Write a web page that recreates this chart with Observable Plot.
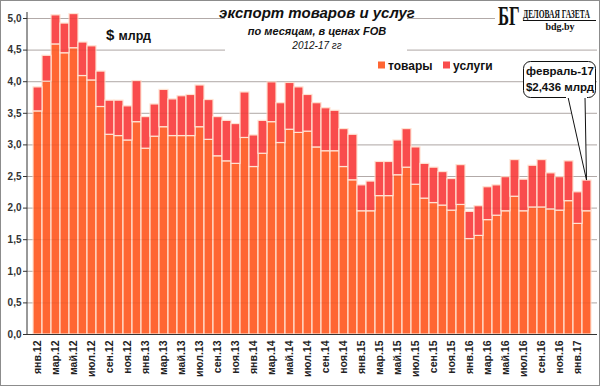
<!DOCTYPE html>
<html><head><meta charset="utf-8">
<script src="https://cdn.jsdelivr.net/npm/d3@7"></script>
<script src="https://cdn.jsdelivr.net/npm/@observablehq/plot@0.6"></script>
<style>
body{margin:0;background:#fff;}
#chart{position:relative;width:600px;height:386px;}
#chart svg{display:block;}
</style></head><body><div id="chart"></div>
<script>
const monthNames = ["янв","фев","мар","апр","май","июн","июл","авг","сен","окт","ноя","дек"];
const years = ["12","13","14","15","16","17"];
const months = [];
years.forEach(y => monthNames.forEach(m => { if (months.length < 62) months.push(m + "." + y); }));

// экспорт товаров, $ млрд
const goods = [3.53,4.00,4.59,4.45,4.53,4.09,4.02,3.60,3.16,3.14,3.07,3.36,
               2.94,3.13,3.28,3.14,3.14,3.14,3.28,3.08,2.82,2.74,2.70,3.11,
               2.65,2.86,3.36,3.03,3.24,3.19,3.21,2.96,2.90,2.90,2.65,2.44,
               1.95,1.95,2.19,2.19,2.52,2.64,2.37,2.15,2.08,2.04,1.96,2.05,
               1.51,1.56,1.81,1.88,1.95,2.18,1.95,2.01,2.01,1.98,1.96,2.11,
               1.75,1.95];
// экспорт услуг, $ млрд
const services = [0.38,0.41,0.46,0.47,0.54,0.53,0.54,0.56,0.54,0.56,0.54,0.65,
                  0.50,0.51,0.59,0.58,0.63,0.65,0.66,0.63,0.62,0.64,0.63,0.72,
                  0.50,0.52,0.63,0.63,0.74,0.72,0.58,0.70,0.68,0.64,0.60,0.72,
                  0.41,0.47,0.54,0.54,0.55,0.61,0.59,0.55,0.56,0.53,0.50,0.63,
                  0.43,0.47,0.52,0.48,0.54,0.58,0.50,0.66,0.75,0.57,0.53,0.63,
                  0.50,0.486];
const seriesNames = ["товары","услуги"];
const seriesColors = ["#ff6633","#f94c4c"];
const yTicks = [0,0.5,1,1.5,2,2.5,3,3.5,4,4.5,5];
const xTicks = months.filter((d,i) => i % 2 === 0);

const data = [];
months.forEach((m,i) => data.push({month:m, type:seriesNames[0], value:goods[i]}));
months.forEach((m,i) => data.push({month:m, type:seriesNames[1], value:services[i]}));

const chart = Plot.plot({
  width:600, height:386,
  marginLeft:27, marginRight:3, marginTop:12, marginBottom:52,
  style:{fontFamily:"'Liberation Sans', Arial, sans-serif", background:"#fff", overflow:"visible"},
  x:{type:"band", domain:months, paddingInner:0, paddingOuter:0, label:null},
  y:{domain:[0,5.095], label:null},
  color:{domain:seriesNames, range:seriesColors},
  marks:[
    Plot.gridY(yTicks,{stroke:"#b9b9b9", strokeOpacity:1}),
    Plot.barY(data,{x:"month", y:"value", fill:"type", stroke:"#ffe2d2", strokeWidth:1.2}),
    Plot.gridY(yTicks,{stroke:"#7a2a10", strokeOpacity:0.10}),
    Plot.ruleY([0],{stroke:"#333"}),
    Plot.axisY(yTicks,{tickFormat:d => d.toFixed(1).replace(".",","), tickSize:4, tickPadding:2,
      fontSize:10, fontWeight:"bold", fill:"#333", stroke:"#333"}),
    Plot.axisX(xTicks,{tickRotate:-90, tickSize:0, tickPadding:6, fontSize:10.5, fontWeight:"bold", fill:"#222"})
  ]
});
document.getElementById("chart").appendChild(chart);

const svg = d3.select(chart);
const ov = svg.append("g").attr("text-anchor","start");
const xs = chart.scale("x"), ys = chart.scale("y");
const x0 = xs.range[0];
const yTop = Math.min(...ys.range), yBot = Math.max(...ys.range);
ov.append("line").attr("x1",x0).attr("x2",x0).attr("y1",yTop).attr("y2",yBot).attr("stroke","#333");

// title block
const tfont = "'Liberation Sans', Arial, sans-serif";
ov.append("rect").attr("x",225).attr("y",1).attr("width",182).attr("height",54).attr("fill","#fff");
ov.append("text").attr("x",317).attr("y",18).attr("text-anchor","middle").attr("font-family",tfont)
  .attr("font-size",15).attr("font-weight","bold").attr("font-style","italic").attr("fill","#111").text("экспорт товаров и услуг");
ov.append("text").attr("x",317).attr("y",35).attr("text-anchor","middle").attr("font-family",tfont)
  .attr("font-size",11).attr("font-weight","bold").attr("font-style","italic").attr("fill","#111").text("по месяцам, в ценах FOB");
ov.append("text").attr("x",317).attr("y",49).attr("text-anchor","middle").attr("font-family",tfont)
  .attr("font-size",10).attr("font-style","italic").attr("fill","#111").text("2012-17 гг");

// unit
const u = ov.append("text").attr("x",106).attr("y",40).attr("text-anchor","start").attr("font-family",tfont).attr("font-weight","bold").attr("fill","#111");
u.append("tspan").attr("font-size",15).text("$ ");
u.append("tspan").attr("font-size",12.5).text("млрд");

// logo
const sfont = "'Liberation Serif', 'DejaVu Serif', serif";
ov.append("rect").attr("x",495).attr("y",1).attr("width",104).attr("height",30).attr("fill","#fff");
ov.append("g").attr("transform","translate(498,25) scale(0.62,1)")
  .append("text").attr("x",0).attr("y",0).attr("text-anchor","start").attr("font-family",sfont).attr("font-size",27).attr("font-weight","bold")
  .attr("fill","#111").text("БГ");
ov.append("g").attr("transform","translate(523,18) scale(0.6,1)")
  .append("text").attr("x",0).attr("y",0).attr("text-anchor","start").attr("font-family",sfont).attr("font-size",12.5).attr("font-weight","bold")
  .attr("fill","#111").text("ДЕЛОВАЯ ГАЗЕТА");
ov.append("line").attr("x1",523).attr("x2",596).attr("y1",20.5).attr("y2",20.5).attr("stroke","#111");
ov.append("text").attr("x",560).attr("y",29.5).attr("text-anchor","middle").attr("font-family",sfont).attr("font-size",10)
  .attr("font-weight","bold").attr("fill","#111").text("bdg.by");

// legend
const lg = [{x:378, name:seriesNames[0], color:seriesColors[0]},{x:443, name:seriesNames[1], color:seriesColors[1]}];
lg.forEach(d => {
  ov.append("rect").attr("x",d.x).attr("y",61.5).attr("width",7).attr("height",7).attr("fill",d.color);
  ov.append("text").attr("x",d.x+10).attr("y",69.5).attr("text-anchor","start").attr("font-family",tfont).attr("font-size",12).attr("font-weight","bold")
    .attr("fill","#111").text(d.name);
});

// callout
const last = months.length - 1;
const tx = xs.apply(months[last]) + xs.bandwidth/2;
const ty = ys.apply(goods[last] + services[last]);
ov.append("path").attr("d",`M568,97 L${tx},${ty} L585,97 Z`).attr("fill","#fff").attr("stroke","#111").attr("stroke-width",1);
ov.append("rect").attr("x",523.5).attr("y",61.5).attr("width",72).attr("height",36).attr("rx",7)
  .attr("fill","#fff").attr("stroke","#111").attr("stroke-width",1);
ov.append("rect").attr("x",566).attr("y",95).attr("width",21).attr("height",3).attr("fill","#fff");
ov.append("text").attr("x",560).attr("y",75).attr("text-anchor","middle").attr("font-family",tfont).attr("font-size",11.5)
  .attr("font-weight","bold").attr("fill","#111").text("февраль-17");
ov.append("text").attr("x",560).attr("y",91).attr("text-anchor","middle").attr("font-family",tfont).attr("font-size",11.5)
  .attr("font-weight","bold").attr("fill","#111").text("$2,436 млрд");

// outer frame
ov.append("rect").attr("x",0.5).attr("y",0.5).attr("width",599).attr("height",385).attr("fill","none").attr("stroke","#8c8c8c");
</script>
</body></html>
